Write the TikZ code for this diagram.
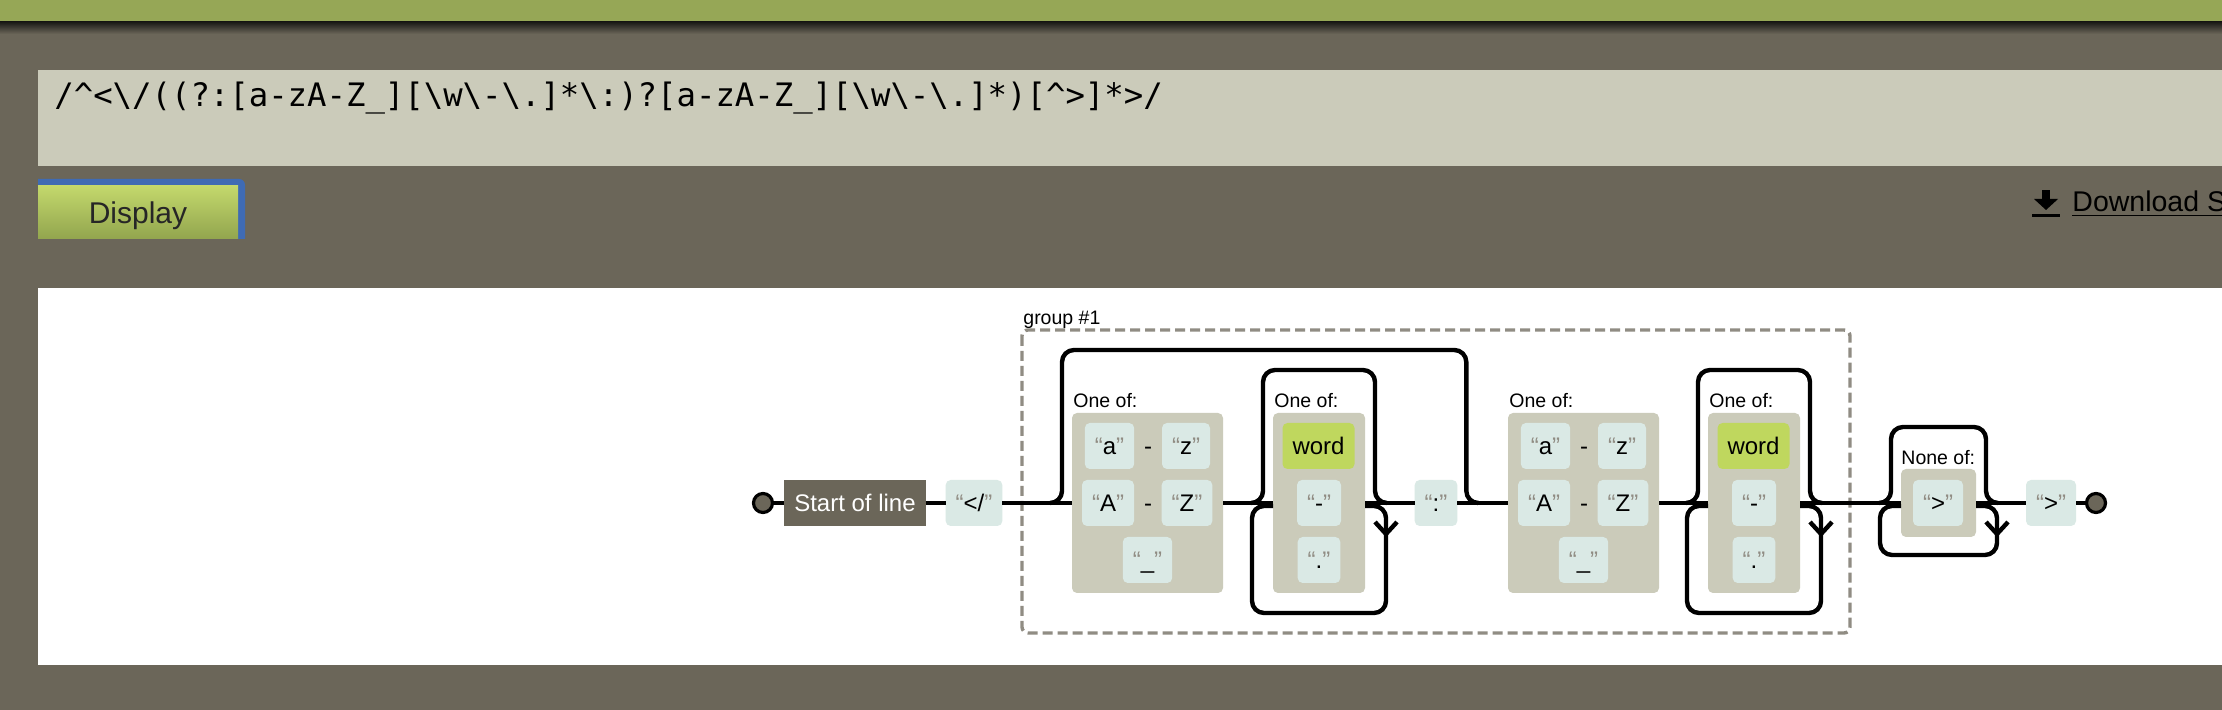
\documentclass[tikz,border=0pt]{standalone}
\usepackage{fontspec}
\setmainfont{Liberation Sans}
\setmonofont{DejaVu Sans Mono}
\usetikzlibrary{calc}

\definecolor{bandgreen}{HTML}{96A756}
\definecolor{pagebg}{HTML}{6B6659}
\definecolor{boxgray}{HTML}{CBCBBA}
\definecolor{litblue}{HTML}{DAE9E5}
\definecolor{wordgreen}{HTML}{BFD75E}
\definecolor{quotegray}{HTML}{908C83}
\definecolor{focusblue}{HTML}{3F6BB4}
\definecolor{btntop}{HTML}{C3D86C}
\definecolor{btnbot}{HTML}{92A54E}

\newcommand{\qlit}[1]{{\color{quotegray}“}#1{\color{quotegray}”}}

\begin{document}
\begin{tikzpicture}[x=0.5pt,y=-0.5pt,
  rail/.style={line width=2.2pt, line join=round, rounded corners=6pt},
  lit/.style={fill=litblue, rounded corners=2.5pt, inner xsep=5pt, inner ysep=0pt,
    minimum height=23pt, text height=9pt, text depth=0pt, outer sep=0pt,
    font=\fontsize{12pt}{14pt}\selectfont},
  wordbox/.style={lit, fill=wordgreen},
  solbox/.style={lit, fill=pagebg, text=white, rounded corners=0pt},
  rangedash/.style={lit, fill=none},
  setbox/.style={fill=boxgray, rounded corners=2.5pt, inner sep=0pt, outer sep=0pt},
  lbl/.style={font=\fontsize{9.75pt}{11pt}\selectfont, inner sep=0pt, anchor=base west},
  endpt/.style={circle, draw, line width=1.6pt, fill=pagebg, minimum size=9.5pt, inner sep=0pt}]
\useasboundingbox (0,0) rectangle (2222,710);

% page
\fill[pagebg] (0,0) rectangle (2222,710);
\fill[bandgreen] (0,0) rectangle (2222,22);
\shade[top color=black!75!pagebg, bottom color=pagebg] (0,22) rectangle (2222,34);
\fill[boxgray] (38,70) rectangle (2222,166);
\node[font=\ttfamily\fontsize{16.15pt}{18pt}\selectfont, anchor=base west, inner sep=0pt] (regex) at (54,107)
  {/\textasciicircum{}<\textbackslash{}/((?:[a-zA-Z\_][\textbackslash{}w\textbackslash{}-\textbackslash{}.]*\textbackslash{}:)?[a-zA-Z\_][\textbackslash{}w\textbackslash{}-\textbackslash{}.]*)[\textasciicircum{}>]*>/};

% button
\fill[focusblue] (38,239) -- (38,179) [rounded corners=3pt] -- (245,179) [sharp corners] -- (245,239) -- cycle;
\shade[top color=btntop, bottom color=btnbot] (38,186) rectangle (238,239);
\node[font=\fontsize{15pt}{18pt}\selectfont, text=black!85, anchor=base, inner sep=0pt] (display) at (138,224) {Display};

% download link
\fill (2042,190) rectangle (2050,201);
\fill (2034,199) -- (2058,199) -- (2046,210) -- cycle;
\fill (2032,214) rectangle (2060,217);
\begin{scope}
\clip (0,0) rectangle (2222,710);
\node[font=\fontsize{14.25pt}{17pt}\selectfont, anchor=base west, inner sep=0pt] (download) at (2072,212) {\underline{Download SVG}};
\end{scope}

% diagram
\fill[white] (38,288) rectangle (2222,665);
\draw[quotegray, line width=1.7pt, dash pattern=on 5pt off 2.5pt, rounded corners=3pt] (1022,330) rectangle (1850,633);
\node[lbl] (grouplbl) at (1023,325) {group \#1};

\node[endpt] (start) at (763,503) {};
\node[solbox] (sol) at (855,503) {Start of line};
\node[lit] (lt) at (974,503) {\qlit{</}};

\foreach \s/\n in {0/A, 436/C} {
  \node[setbox, minimum width=75.5pt, minimum height=90pt] (oneof\n) at ({1147.5+\s},503) {};
  \node[lbl] (oneof\n-lbl) at ({1073+\s},408) {One of:};
  \node[lit] (oneof\n-lo1) at ({1109.5+\s},446) {\qlit{a}};
  \node[rangedash] (oneof\n-d1) at ({1148+\s},446) {-};
  \node[lit] (oneof\n-lo2) at ({1186+\s},446) {\qlit{z}};
  \node[lit] (oneof\n-up1) at ({1108+\s},503) {\qlit{A}};
  \node[rangedash] (oneof\n-d2) at ({1148+\s},503) {-};
  \node[lit] (oneof\n-up2) at ({1187+\s},503) {\qlit{Z}};
  \node[lit] (oneof\n-us) at ({1147.5+\s},560) {\qlit{\_}};
}

\foreach \s/\n in {0/B, 435/D} {
  \node[setbox, minimum width=46pt, minimum height=90pt] (oneof\n) at ({1319+\s},503) {};
  \node[lbl] (oneof\n-lbl) at ({1274+\s},408) {One of:};
  \node[wordbox] (oneof\n-w) at ({1318.5+\s},446) {word};
  \node[lit] (oneof\n-hy) at ({1319+\s},503) {\qlit{-}};
  \node[lit] (oneof\n-dot) at ({1319+\s},560) {\qlit{.}};
}

\node[lit] (colon) at (1436,503) {\qlit{:}};

\node[setbox, minimum width=37.5pt, minimum height=34pt] (noneof) at (1938.5,503) {};
\node[lbl] (noneof-lbl) at (1901,465) {None of:};
\node[lit] (noneof-gt) at (1938,503) {\qlit{>}};

\node[lit] (gt) at (2051,503) {\qlit{>}};
\node[endpt] (finish) at (2096,503) {};

% rails
\foreach \a/\b in {start/sol, sol/lt, lt/oneofA, oneofA/oneofB, oneofB/colon,
  colon/oneofC, oneofC/oneofD, oneofD/noneof, noneof/gt, gt/finish}
  \draw[rail] (\a) -- (\b);

% optional group
\draw[rail] ($(oneofA.west)+(-22,0)$) -- ($(oneofA.west)+(-10,0)$) -- ($(oneofA.north west)+(-10,-63)$)
  -- ($(colon.east)+(9,-153)$) -- ($(colon.east)+(9,0)$) -- ($(colon.east)+(21,0)$);

% zero or more
\foreach \b/\up/\dn in {oneofB/43/20, oneofD/43/20, noneof/42/18} {
  \draw[rail] ($(\b.west)+(-22,0)$) -- ($(\b.west)+(-10,0)$) -- ($(\b.north west)+(-10,-\up)$)
    -- ($(\b.north east)+(10,-\up)$) -- ($(\b.east)+(10,0)$) -- ($(\b.east)+(22,0)$);
  \draw[rail] ($(\b.east)+(0,3)$) -- ($(\b.east)+(21,3)$) -- ($(\b.south east)+(21,\dn)$)
    -- ($(\b.south west)+(-21,\dn)$) -- ($(\b.west)+(-21,3)$) -- ($(\b.west)+(0,3)$);
  \draw[rail, sharp corners, line join=miter] ($(\b.east)+(10,19)$) -- ($(\b.east)+(21,31)$) -- ($(\b.east)+(32,19)$);
}
\end{tikzpicture}
\end{document}
